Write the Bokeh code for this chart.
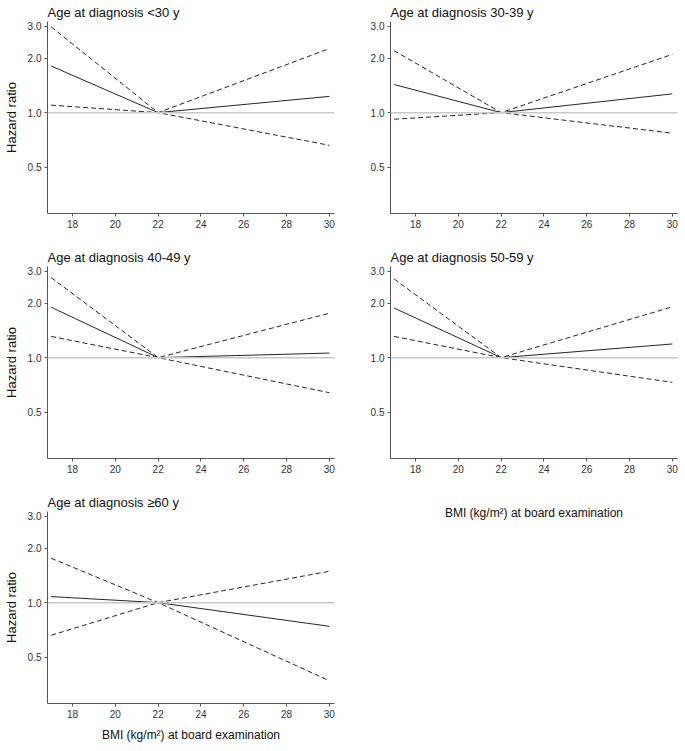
from bokeh.plotting import figure
from bokeh.layouts import row, column
from bokeh.models import Range1d, FixedTicker, PrintfTickFormatter, Span
from bokeh.embed import file_html
from bokeh.resources import INLINE

# ---- data ----
bmi = [17, 22, 30]
x_ticks = [18, 20, 22, 24, 26, 28, 30]
y_ticks = [0.5, 1.0, 2.0, 3.0]

titles = ["Age at diagnosis <30 y", "Age at diagnosis 30-39 y",
          "Age at diagnosis 40-49 y", "Age at diagnosis 50-59 y",
          "Age at diagnosis \u226560 y"]

hr_lt30 = [1.81, 1.0, 1.23]
ci_a_lt30 = [2.98, 1.0, 2.26]
ci_b_lt30 = [1.10, 1.0, 0.66]

hr_30s = [1.43, 1.0, 1.27]
ci_a_30s = [2.20, 1.0, 2.10]
ci_b_30s = [0.92, 1.0, 0.77]

hr_40s = [1.90, 1.0, 1.06]
ci_a_40s = [2.77, 1.0, 1.76]
ci_b_40s = [1.31, 1.0, 0.64]

hr_50s = [1.88, 1.0, 1.19]
ci_a_50s = [2.72, 1.0, 1.91]
ci_b_50s = [1.31, 1.0, 0.73]

hr_60p = [1.08, 1.0, 0.74]
ci_a_60p = [1.76, 1.0, 0.37]
ci_b_60p = [0.66, 1.0, 1.49]

ylabel = "Hazard ratio"
xlabel = "BMI (kg/m\u00b2) at board examination"

FW = 287
FH = 192
FONT = "Liberation Sans"
LINE = "#262626"


def panel(title, hr, ca, cb, with_ylabel, with_xlabel, right_b, bottom_b, xl_standoff):
    p = figure(frame_width=FW, frame_height=FH, y_axis_type="log",
               x_range=Range1d(16.83, 30.24), y_range=Range1d(0.277, 3.19),
               output_backend="svg", toolbar_location=None,
               min_border_left=36, min_border_right=right_b,
               min_border_top=20, min_border_bottom=bottom_b,
               background_fill_color="white", border_fill_color="white")
    p.outline_line_color = None
    p.grid.visible = False

    p.title.text = title
    p.title.align = "left"
    p.title.text_font = FONT
    p.title.text_font_size = "13px"
    p.title.text_font_style = "normal"
    p.title.text_color = "#111111"
    p.title.standoff = 4

    ref = Span(location=1.0, dimension="width", line_color="#c8c8c8", line_width=1.5)
    p.add_layout(ref)

    p.line(bmi, hr, line_color=LINE, line_width=1)
    p.line(bmi, ca, line_color=LINE, line_width=1, line_dash="5 3")
    p.line(bmi, cb, line_color=LINE, line_width=1, line_dash="5 3")

    p.xaxis.ticker = FixedTicker(ticks=x_ticks)
    p.yaxis.ticker = FixedTicker(ticks=y_ticks)
    p.yaxis.formatter = PrintfTickFormatter(format="%.1f")
    for ax in (p.xaxis, p.yaxis):
        ax.axis_line_color = "#555555"
        ax.axis_line_width = 1
        ax.major_tick_line_color = "#555555"
        ax.major_tick_out = 3
        ax.major_tick_in = 0
        ax.minor_tick_line_color = None
        ax.major_label_text_font = FONT
        ax.major_label_text_font_size = "10px"
        ax.major_label_text_color = "#333333"
        ax.major_label_standoff = 3
        ax.axis_label_text_font = FONT
        ax.axis_label_text_font_style = "normal"
        ax.axis_label_text_color = "#111111"
    if with_ylabel:
        p.yaxis.axis_label = ylabel
        p.yaxis.axis_label_text_font_size = "13px"
        p.yaxis.axis_label_standoff = 6
    if with_xlabel:
        p.xaxis.axis_label = xlabel
        p.xaxis.axis_label_text_font_size = "12px"
        p.xaxis.axis_label_standoff = xl_standoff
    return p


p1 = panel(titles[0], hr_lt30, ci_a_lt30, ci_b_lt30, True, False, 20, 32, 0)
p2 = panel(titles[1], hr_30s, ci_a_30s, ci_b_30s, False, False, 8, 32, 0)
p3 = panel(titles[2], hr_40s, ci_a_40s, ci_b_40s, True, False, 20, 32, 0)
p4 = panel(titles[3], hr_50s, ci_a_50s, ci_b_50s, False, True, 8, 66, 30)
p5 = panel(titles[4], hr_60p, ci_a_60p, ci_b_60p, True, True, 20, 37, 7)

layout = row(column(p1, p3, p5), column(p2, p4))

open("out.html", "w").write(file_html(layout, INLINE))
